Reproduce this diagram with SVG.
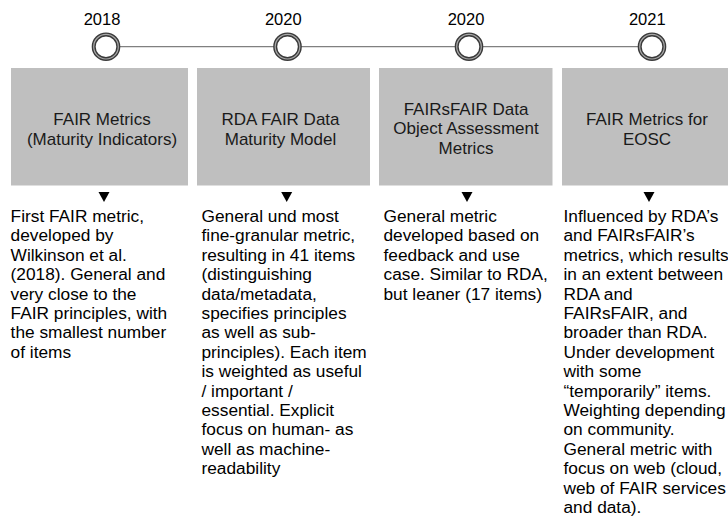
<svg xmlns="http://www.w3.org/2000/svg" width="728" height="519" viewBox="0 0 728 519">
<style>
text{font-family:"Liberation Sans",Arial,sans-serif;fill:#000}
.yr{font-size:16.5px;text-anchor:middle}
.ttl{font-size:17px;text-anchor:middle;fill:#1a1a1a}
.body{font-size:17.3px}
.box{fill:#bfbfbf}
.ring{fill:#fff;stroke:#3a3a3a;stroke-width:4}
.ring2{fill:none;stroke:#a8a8a8;stroke-width:1.2}
.tri{fill:#000}
.tl{stroke:#808080;stroke-width:1.2;fill:none}
</style>
<g id="connectors">
<line class="tl" x1="106" y1="46.7" x2="652" y2="46.7"/>
</g>
<g id="node-2018">
<text class="yr" x="102" y="25">2018</text>
<circle class="ring" cx="106" cy="46.7" r="12.3"/>
<circle class="ring2" cx="106" cy="46.7" r="12.3"/>
<rect class="box" x="11" y="68" width="177" height="117.5"/>
<text class="ttl" x="102" y="125">FAIR Metrics</text>
<text class="ttl" x="102" y="144.5">(Maturity Indicators)</text>
<path class="tri" d="M98.5,192 L109.5,192 L104,202 Z"/>
<text class="body" x="10.6" y="222">
<tspan x="10.6">First FAIR metric,</tspan>
<tspan x="10.6" dy="19.4">developed by</tspan>
<tspan x="10.6" dy="19.4">Wilkinson et al.</tspan>
<tspan x="10.6" dy="19.4">(2018). General and</tspan>
<tspan x="10.6" dy="19.4">very close to the</tspan>
<tspan x="10.6" dy="19.4">FAIR principles, with</tspan>
<tspan x="10.6" dy="19.4">the smallest number</tspan>
<tspan x="10.6" dy="19.4">of items</tspan>
</text>
</g>
<g id="node-2020a">
<text class="yr" x="283.3" y="25">2020</text>
<circle class="ring" cx="287.5" cy="46.7" r="12.3"/>
<circle class="ring2" cx="287.5" cy="46.7" r="12.3"/>
<rect class="box" x="197" y="68" width="173" height="117.5"/>
<text class="ttl" x="280.5" y="125">RDA FAIR Data</text>
<text class="ttl" x="280.5" y="144.5">Maturity Model</text>
<path class="tri" d="M281.2,192 L292.2,192 L286.7,202 Z"/>
<text class="body" x="201.5" y="222">
<tspan x="201.5">General und most</tspan>
<tspan x="201.5" dy="19.4">fine-granular metric,</tspan>
<tspan x="201.5" dy="19.4">resulting in 41 items</tspan>
<tspan x="201.5" dy="19.4">(distinguishing</tspan>
<tspan x="201.5" dy="19.4">data/metadata,</tspan>
<tspan x="201.5" dy="19.4">specifies principles</tspan>
<tspan x="201.5" dy="19.4">as well as sub-</tspan>
<tspan x="201.5" dy="19.4">principles). Each item</tspan>
<tspan x="201.5" dy="19.4">is weighted as useful</tspan>
<tspan x="201.5" dy="19.4">/ important /</tspan>
<tspan x="201.5" dy="19.4">essential. Explicit</tspan>
<tspan x="201.5" dy="19.4">focus on human- as</tspan>
<tspan x="201.5" dy="19.4">well as machine-</tspan>
<tspan x="201.5" dy="19.4">readability</tspan>
</text>
</g>
<g id="node-2020b">
<text class="yr" x="466" y="25">2020</text>
<circle class="ring" cx="469" cy="46.7" r="12.3"/>
<circle class="ring2" cx="469" cy="46.7" r="12.3"/>
<rect class="box" x="379" y="68" width="173.5" height="117.5"/>
<text class="ttl" x="466" y="114.5">FAIRsFAIR Data</text>
<text class="ttl" x="466" y="134">Object Assessment</text>
<text class="ttl" x="466" y="153.5">Metrics</text>
<path class="tri" d="M461.5,192 L472.5,192 L467,202 Z"/>
<text class="body" x="383.5" y="222">
<tspan x="383.5">General metric</tspan>
<tspan x="383.5" dy="19.4">developed based on</tspan>
<tspan x="383.5" dy="19.4">feedback and use</tspan>
<tspan x="383.5" dy="19.4">case. Similar to RDA,</tspan>
<tspan x="383.5" dy="19.4">but leaner (17 items)</tspan>
</text>
</g>
<g id="node-2021">
<text class="yr" x="647.3" y="25">2021</text>
<circle class="ring" cx="652" cy="46.7" r="12.3"/>
<circle class="ring2" cx="652" cy="46.7" r="12.3"/>
<rect class="box" x="562" y="68" width="170" height="117.5"/>
<text class="ttl" x="647" y="125">FAIR Metrics for</text>
<text class="ttl" x="647" y="144.5">EOSC</text>
<path class="tri" d="M643.5,192 L654.5,192 L649,202 Z"/>
<text class="body" x="563.5" y="222">
<tspan x="563.5">Influenced by RDA’s</tspan>
<tspan x="563.5" dy="19.4">and FAIRsFAIR’s</tspan>
<tspan x="563.5" dy="19.4">metrics, which results</tspan>
<tspan x="563.5" dy="19.4">in an extent between</tspan>
<tspan x="563.5" dy="19.4">RDA and</tspan>
<tspan x="563.5" dy="19.4">FAIRsFAIR, and</tspan>
<tspan x="563.5" dy="19.4">broader than RDA.</tspan>
<tspan x="563.5" dy="19.4">Under development</tspan>
<tspan x="563.5" dy="19.4">with some</tspan>
<tspan x="563.5" dy="19.4">“temporarily” items.</tspan>
<tspan x="563.5" dy="19.4">Weighting depending</tspan>
<tspan x="563.5" dy="19.4">on community.</tspan>
<tspan x="563.5" dy="19.4">General metric with</tspan>
<tspan x="563.5" dy="19.4">focus on web (cloud,</tspan>
<tspan x="563.5" dy="19.4">web of FAIR services</tspan>
<tspan x="563.5" dy="19.4">and data).</tspan>
</text>
</g>
</svg>
